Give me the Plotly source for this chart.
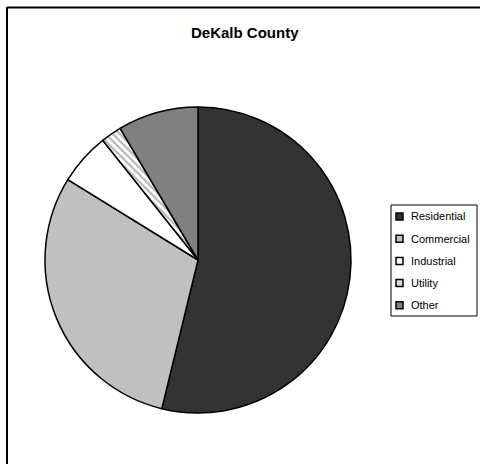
import plotly.graph_objects as go

categories = ["Residential", "Commercial", "Industrial", "Utility", "Other"]
values = [53.8, 30.0, 5.5, 2.2, 8.5]
colors = ["#333333", "#c0c0c0", "#ffffff", "#ffffff", "#808080"]
legend_colors = ["#333333", "#c0c0c0", "#ffffff", "#d8d8d8", "#808080"]
patterns = ["", "", "", "\\", ""]
title = "DeKalb County"

W, H = 480, 464
cx, cy, r = 198, 260, 153

def px(x):
    return x / W

def py(y):
    return 1 - y / H

fig = go.Figure(go.Pie(
    labels=categories,
    values=values,
    sort=False,
    direction="clockwise",
    rotation=0,
    textinfo="none",
    hoverinfo="label+percent",
    showlegend=False,
    marker=dict(
        colors=colors,
        line=dict(color="#000000", width=1.5),
        pattern=dict(shape=patterns, fgcolor="#b8b8b8", bgcolor="#ffffff", size=5, solidity=0.45),
    ),
    domain=dict(x=[px(cx - r), px(cx + r)], y=[py(cy + r), py(cy - r)]),
))

shapes = [
    # chart frame (left and top edges visible)
    dict(type="line", xref="paper", yref="paper", x0=px(7), x1=px(480), y0=py(7.5), y1=py(7.5),
         line=dict(color="#000000", width=2)),
    dict(type="line", xref="paper", yref="paper", x0=px(7), x1=px(7), y0=py(7), y1=py(464),
         line=dict(color="#000000", width=2)),
    # legend box
    dict(type="rect", xref="paper", yref="paper", x0=px(391), x1=px(477), y0=py(205), y1=py(316),
         line=dict(color="#000000", width=1), fillcolor="#ffffff", layer="below"),
]
annotations = [dict(
    text="<b>" + title + "</b>", x=px(244.5), y=py(33), xref="paper", yref="paper",
    showarrow=False, font=dict(size=15, family="Liberation Sans, Arial, sans-serif", color="#000000"),
    xanchor="center", yanchor="middle",
)]

for i, (lab, col) in enumerate(zip(categories, legend_colors)):
    yc = 216.5 + 22.2 * i
    shapes.append(dict(type="rect", xref="paper", yref="paper",
                       x0=px(396), x1=px(403), y0=py(yc + 3.5), y1=py(yc - 3.5),
                       line=dict(color="#000000", width=1.5), fillcolor=col))
    annotations.append(dict(text=lab, x=px(409), y=py(yc), xref="paper", yref="paper",
                            showarrow=False, xanchor="left", yanchor="middle",
                            font=dict(size=11, family="Liberation Sans, Arial, sans-serif", color="#000000")))

fig.update_layout(
    width=W, height=H,
    margin=dict(l=0, r=0, t=0, b=0),
    paper_bgcolor="#ffffff",
    plot_bgcolor="#ffffff",
    showlegend=False,
    font=dict(family="Liberation Sans, Arial, sans-serif", size=11, color="#000000"),
    shapes=shapes,
    annotations=annotations,
)

fig.write_html("out.html", config={"displayModeBar": False},
               post_script="document.body.style.margin='0';document.body.style.overflow='hidden';")
